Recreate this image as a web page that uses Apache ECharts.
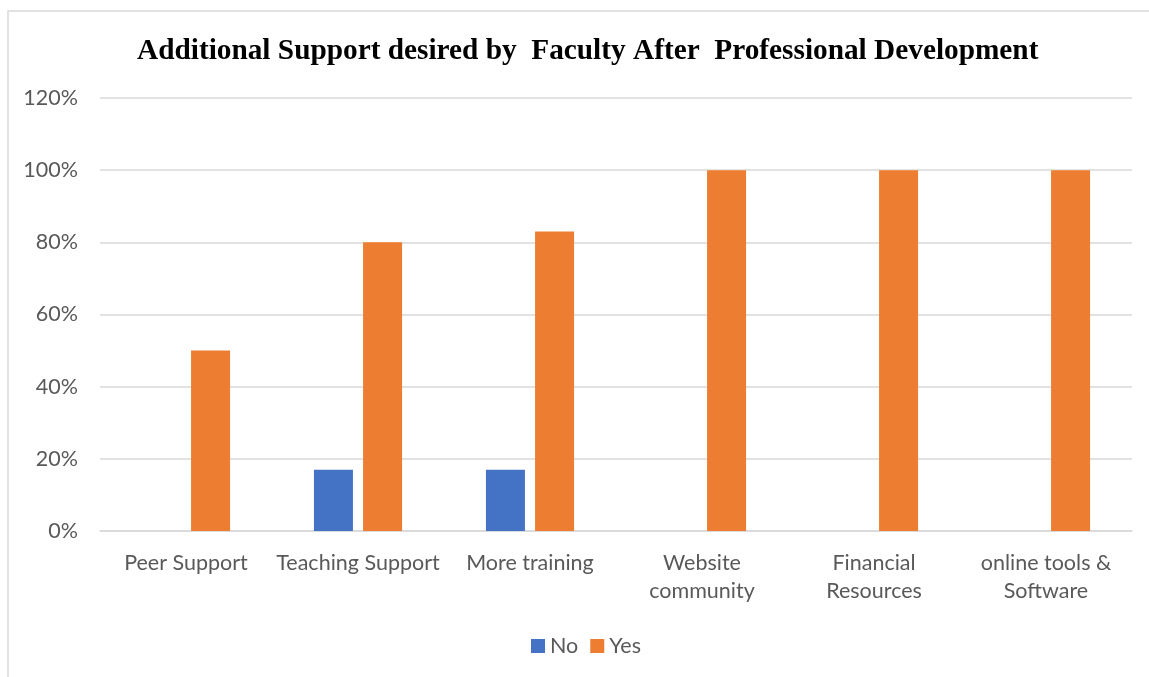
<!DOCTYPE html>
<html><head><meta charset="utf-8">
<script src="https://cdn.jsdelivr.net/npm/echarts@6/dist/echarts.min.js"></script>
<style>html,body{margin:0;padding:0;background:#fff}#c{width:1149px;height:677px}</style>
</head><body><div id="c"></div>
<script>
const categories = ['Peer Support', 'Teaching Support', 'More training', 'Website\ncommunity', 'Financial\nResources', 'online tools &\nSoftware'];
const noValues = [0, 17, 17, 0, 0, 0];
const yesValues = [50, 80, 83, 100, 100, 100];
const seriesNames = ['No', 'Yes'];
const titleText = 'Additional Support desired by  Faculty After  Professional Development';

const chart = echarts.init(document.getElementById('c'), null, {renderer: 'canvas'});
const labelFont = 'Lato';
chart.setOption({
  animation: false,
  backgroundColor: '#fff',
  graphic: [{
    type: 'rect', shape: {x: 8, y: 11, width: 1200, height: 700},
    style: {fill: 'none', stroke: '#d9d9d9', lineWidth: 1.5}, silent: true, z: -1
  }],
  title: {
    text: titleText, left: 132, top: 32,
    textStyle: {fontFamily: 'Liberation Serif', fontWeight: 'bold', fontSize: 29.3, color: '#000'}
  },
  legend: {
    data: seriesNames, bottom: 15, left: 526, itemWidth: 14, itemHeight: 14, itemGap: 12,
    icon: 'rect',
    textStyle: {fontFamily: labelFont, fontSize: 21.5, color: '#595959'}
  },
  grid: {left: 100, right: 17, top: 98, bottom: 146, containLabel: false},
  xAxis: {
    type: 'category', data: categories,
    axisLine: {lineStyle: {color: '#d9d9d9', width: 1.5}},
    axisTick: {show: false},
    axisLabel: {fontFamily: labelFont, fontSize: 21.5, color: '#595959', margin: 18, lineHeight: 28, interval: 0}
  },
  yAxis: {
    type: 'value', min: 0, max: 120, interval: 20,
    axisLabel: {formatter: '{value}%', fontFamily: labelFont, fontSize: 21.5, color: '#595959', margin: 22},
    splitLine: {lineStyle: {color: '#d9d9d9', width: 1.5}},
    axisLine: {show: false}, axisTick: {show: false}
  },
  series: [
    {name: seriesNames[0], type: 'bar', data: noValues, barWidth: 39, barGap: '26%',
     itemStyle: {color: '#4472C4'}},
    {name: seriesNames[1], type: 'bar', data: yesValues, barWidth: 39, barGap: '26%',
     itemStyle: {color: '#ED7D31'}}
  ]
});
</script></body></html>
